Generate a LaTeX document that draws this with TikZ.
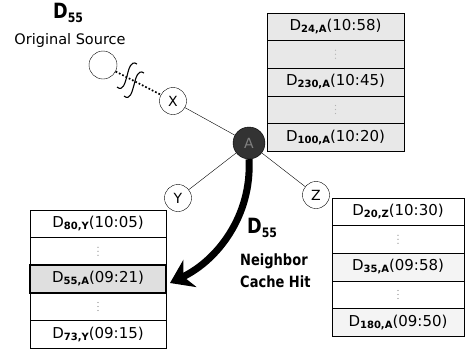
\documentclass[tikz,border=0pt]{standalone}
\usepackage{fontspec}
\setmainfont{DejaVu Sans}
\newfontfamily\narrowfont[FakeStretch=0.84]{DejaVu Sans}
\usetikzlibrary{arrows.meta}

\newcommand{\entry}[2]{D\raisebox{-2pt}{\fontsize{10}{10}\selectfont\bfseries #1}(#2)}
\newcommand{\dfive}{\narrowfont\bfseries\fontsize{21}{21}\selectfont D\raisebox{-4.5pt}{\fontsize{13}{13}\selectfont 55}}

\begin{document}
\begin{tikzpicture}[x=1pt, y=-1pt, >={Stealth[length=22pt, width=30pt]},
  every node/.style={font=\fontsize{15}{17}\selectfont},
  peer/.style={draw, circle, fill=white, inner sep=0pt, minimum size=27pt, font=\fontsize{14}{14}\selectfont},
  gapdots/.style={gray, line width=1.3pt, line cap=round, dash pattern=on 0pt off 4pt},
  bold label/.style={inner sep=0pt, anchor=base west, font=\narrowfont\bfseries\fontsize{15.5}{16}\selectfont}]
  \useasboundingbox (0,0) rectangle (466,349);

  % source and the peers
  \node[inner sep=0pt, anchor=base west] (srcname) at (53,18) {\dfive};
  \node[inner sep=0pt, anchor=base, font=\fontsize{14.5}{16}\selectfont] (srctext) at (70,44) {Original Source};
  \node[peer, minimum size=28pt] (src) at (103,65) {};
  \node[peer] (x) at (173,101) {X};
  \node[peer, fill=black!80, minimum size=32pt, text=gray] (a) at (249,143) {A};
  \node[peer] (y) at (178,198) {Y};
  \node[peer] (z) at (316,195) {Z};
  \draw (a) -- (x);
  \draw (a) -- (y);
  \draw (a) -- (z);
  \draw[line width=1.7pt, dash pattern=on 1.7pt off 2pt] (src) -- (x);
  % break marks on the long link
  \draw[line width=1.1pt] (117,87) .. controls (123,92) and (125,83) .. (127,76) .. controls (129,68) and (131,60) .. (137,64);
  \draw[line width=1.1pt, shift={(7,9)}] (117,87) .. controls (123,92) and (125,83) .. (127,76) .. controls (129,68) and (131,60) .. (137,64);

  % cache of A
  \draw[fill=gray!18] (267,13) rectangle (404,151);
  \draw (267,40.6) -- (404,40.6) (267,68.2) -- (404,68.2) (267,95.8) -- (404,95.8) (267,123.4) -- (404,123.4);
  \node (a1) at (335.5,26.8) {\entry{24,A}{10:58}};
  \draw[gapdots, gray!60] (335.5,50.3) -- ++(0,8.2);
  \node (a3) at (335.5,82) {\entry{230,A}{10:45}};
  \draw[gapdots, gray!60] (335.5,105.5) -- ++(0,8.2);
  \node (a5) at (335.5,137.2) {\entry{100,A}{10:20}};

  % cache of Y
  \draw (30,210) rectangle (166,348);
  \draw (30,237.6) -- (166,237.6) (30,320.4) -- (166,320.4);
  \draw[line width=2.2pt, fill=gray!25] (30,265.2) rectangle (166,292.8);
  \node (y1) at (98,223.8) {\entry{80,Y}{10:05}};
  \draw[gapdots] (98,247.3) -- ++(0,8.2);
  \node (hit) at (98,279) {\entry{55,A}{09:21}};
  \draw[gapdots] (98,302.5) -- ++(0,8.2);
  \node (y5) at (98,334.2) {\entry{73,Y}{09:15}};
  \coordinate (hitend) at (170,283);

  % cache of Z
  \draw (332,198) rectangle (464,336);
  \draw[fill=gray!9] (332,253.2) rectangle (464,280.8);
  \draw[fill=gray!9] (332,308.4) rectangle (464,336);
  \draw (332,225.6) -- (464,225.6);
  \node (z1) at (398,211.8) {\entry{20,Z}{10:30}};
  \draw[gapdots] (398,235.3) -- ++(0,8.2);
  \node (z3) at (398,267) {\entry{35,A}{09:58}};
  \draw[gapdots] (398,290.5) -- ++(0,8.2);
  \node (z5) at (398,322.2) {\entry{180,A}{09:50}};

  % neighbor cache hit
  \draw[line width=7pt, ->] (a.south) .. controls (252,215) and (218,260) .. (hitend);
  \node[inner sep=0pt, anchor=base west] (hitname) at (247,233) {\dfive};
  \node[bold label] (hit1) at (240,265) {Neighbor};
  \node[bold label] (hit2) at (240,287) {Cache Hit};
\end{tikzpicture}
\end{document}
